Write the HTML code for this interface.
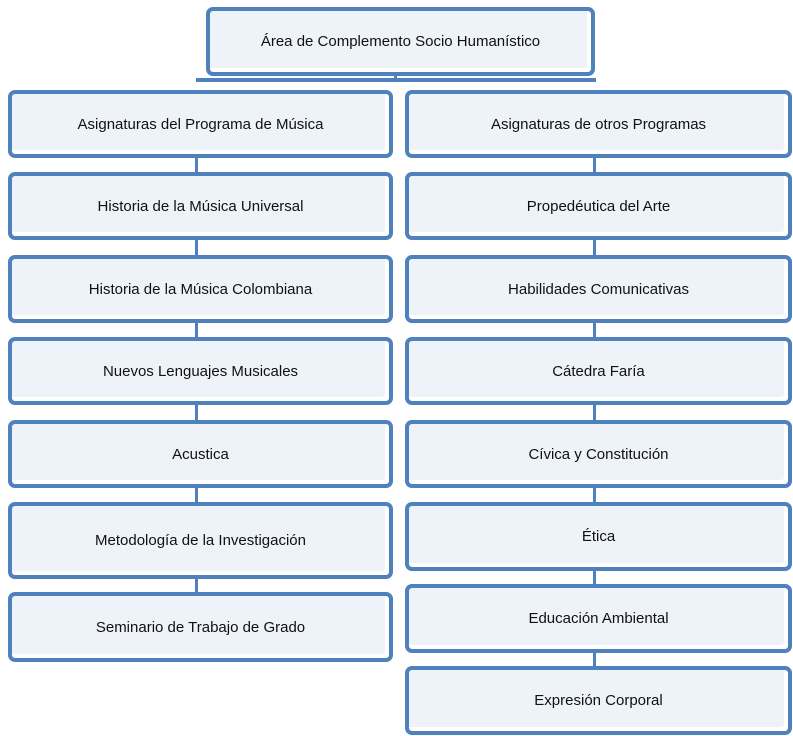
<!DOCTYPE html>
<html><head><meta charset="utf-8"><style>
body{margin:0;width:793px;height:736px;background:#fff;position:relative;overflow:hidden;font-family:"Liberation Sans",sans-serif;}
.b{position:absolute;box-sizing:border-box;border:4px solid #4f81bd;border-radius:7px;background:#eef2f9;display:flex;align-items:center;justify-content:center;font-size:15px;color:#111;box-shadow:inset -4px -4px 0 #fff;}
.l{position:absolute;background:#4f81bd;}
</style></head><body>
<div class="l" style="left:196px;top:78px;width:400px;height:4px"></div>
<div class="l" style="left:394px;top:72px;width:3px;height:10px"></div>
<div class="l" style="left:195px;top:150px;width:3px;height:450px"></div>
<div class="l" style="left:593px;top:150px;width:3px;height:520px"></div>
<div class="b" style="left:206px;top:7px;width:389px;height:69px">Área de Complemento Socio Humanístico</div>

<div class="b" style="left:8px;top:90px;width:385px;height:68px">Asignaturas del Programa de Música</div>
<div class="b" style="left:8px;top:172px;width:385px;height:68px">Historia de la Música Universal</div>
<div class="b" style="left:8px;top:255px;width:385px;height:68px">Historia de la Música Colombiana</div>
<div class="b" style="left:8px;top:337px;width:385px;height:68px">Nuevos Lenguajes Musicales</div>
<div class="b" style="left:8px;top:420px;width:385px;height:68px">Acustica</div>
<div class="b" style="left:8px;top:502px;width:385px;height:77px">Metodología de la Investigación</div>
<div class="b" style="left:8px;top:592px;width:385px;height:70px">Seminario de Trabajo de Grado</div>

<div class="b" style="left:405px;top:90px;width:387px;height:68px">Asignaturas de otros Programas</div>
<div class="b" style="left:405px;top:172px;width:387px;height:68px">Propedéutica del Arte</div>
<div class="b" style="left:405px;top:255px;width:387px;height:68px">Habilidades Comunicativas</div>
<div class="b" style="left:405px;top:337px;width:387px;height:68px">Cátedra Faría</div>
<div class="b" style="left:405px;top:420px;width:387px;height:68px">Cívica y Constitución</div>
<div class="b" style="left:405px;top:502px;width:387px;height:69px">Ética</div>
<div class="b" style="left:405px;top:584px;width:387px;height:69px">Educación Ambiental</div>
<div class="b" style="left:405px;top:666px;width:387px;height:69px">Expresión Corporal</div>
</body></html>
